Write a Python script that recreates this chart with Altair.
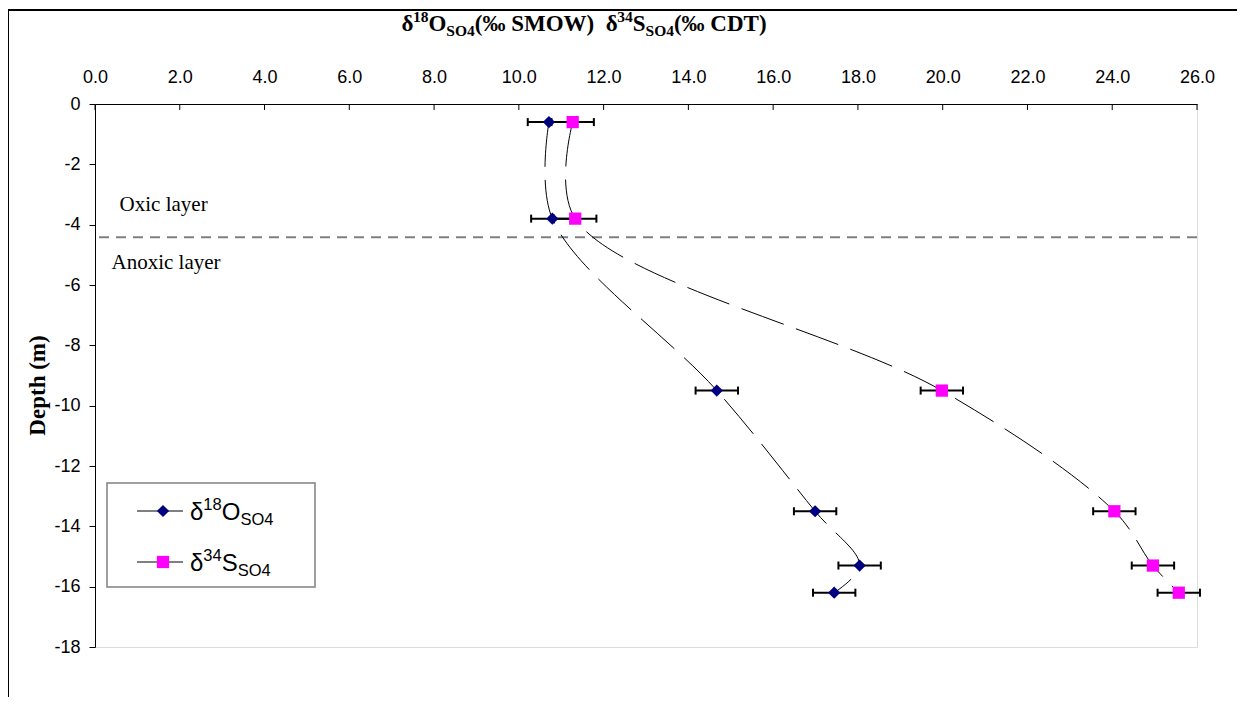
import altair as alt
import pandas as pd

# ---------------- data ----------------
depth = [-0.6, -3.8, -9.5, -13.5, -15.3, -16.2]
d18O = [10.71, 10.79, 14.67, 16.99, 18.04, 17.44]
d34S = [11.27, 11.33, 19.98, 24.05, 24.96, 25.57]
err_O = [0.5, 0.5, 0.5, 0.5, 0.5, 0.5]
err_S = [0.5, 0.5, 0.5, 0.5, 0.5, 0.5]
x_ticks = [0, 2, 4, 6, 8, 10, 12, 14, 16, 18, 20, 22, 24, 26]
y_ticks = [0, -2, -4, -6, -8, -10, -12, -14, -16, -18]
boundary_depth = [-4.42]
layer_labels = ["Oxic layer", "Anoxic layer"]
layer_label_x = [0.58, 0.39]
layer_label_y = [-3.35, -5.27]

# ---------------- layout constants ----------------
W, H = 1102, 543
PL, PT = 87, 96          # padding -> plot origin at page (95, 104)
OX, OY = 8 + PL, 8 + PT  # page coords of plot origin

SERIF = "Liberation Serif"
SANS = "Liberation Sans"

rows = []
for i in range(len(depth)):
    rows.append({"series": "O", "idx": i, "depth": depth[i], "val": d18O[i],
                 "lo": d18O[i] - err_O[i], "hi": d18O[i] + err_O[i]})
    rows.append({"series": "S", "idx": i, "depth": depth[i], "val": d34S[i],
                 "lo": d34S[i] - err_S[i], "hi": d34S[i] + err_S[i]})
df = pd.DataFrame(rows)
dfO = df[df.series == "O"]
dfS = df[df.series == "S"]

xscale = alt.Scale(domain=[0, 26], nice=False, zero=False)
yscale = alt.Scale(domain=[-18, 0], nice=False, zero=False)

xaxis = alt.Axis(orient="top", values=x_ticks, format=".1f", title=None,
                 ticks=False, labelPadding=18, labelFlush=False,
                 labelOverlap=False, grid=False, domainColor="black",
                 labelFont=SANS, labelFontSize=18, labelColor="black")
yaxis = alt.Axis(orient="left", values=y_ticks, labelExpr="'' + datum.value",
                 title="Depth (m)",
                 tickSize=6, tickColor="black", labelPadding=9, grid=False,
                 domainColor="black", labelFont=SANS, labelFontSize=18,
                 labelColor="black", titleFont=SERIF, titleFontSize=23,
                 titleFontWeight="bold", titleColor="black",
                 titleX=-46, titleY=281, titleAlign="center",
                 titleBaseline="bottom", titleAngle=-90)

X = lambda f: alt.X(f, type="quantitative", scale=xscale, axis=xaxis)
Y = lambda f: alt.Y(f, type="quantitative", scale=yscale, axis=yaxis)

dummy = pd.DataFrame({"a": [0]})


def px(page_x):
    return page_x - OX


def py(page_y):
    return page_y - OY


def txt(s, page_x, page_y, size, font, bold=False, baseline="alphabetic", align="left"):
    return alt.Chart(dummy).mark_text(
        text=s, font=font, fontSize=size, fontWeight="bold" if bold else "normal",
        color="black", align=align, baseline=baseline
    ).encode(x=alt.value(px(page_x)), y=alt.value(py(page_y)))


# ---------------- plot layers ----------------
base_axes = alt.Chart(dfO).mark_point(opacity=0).encode(x=X("val"), y=Y("depth"))

frame = alt.Chart(dummy).mark_rect(filled=False, stroke="black", strokeWidth=2).encode(
    x=alt.value(px(8)), x2=alt.value(px(1260)), y=alt.value(py(10)), y2=alt.value(py(730)))

boundary = alt.Chart(pd.DataFrame({"d": boundary_depth})).mark_rule(
    color="#808080", strokeWidth=2, strokeDash=[10, 7]).encode(y=Y("d"))

xt = alt.Chart(pd.DataFrame({"t": x_ticks})).mark_rule(color="black", strokeWidth=1).encode(
    x=X("t"), y=alt.value(0), y2=alt.value(6))

curves = alt.Chart(df).mark_line(interpolate="catmull-rom", color="black",
                                 strokeWidth=1, strokeDash=[45, 13]).encode(
    x=X("val"), y=Y("depth"), detail="series:N", order="idx:Q")

ebar = alt.Chart(df).mark_rule(color="black", strokeWidth=2).encode(
    x=X("lo"), x2="hi:Q", y=Y("depth"))
ecap_lo = alt.Chart(df).mark_tick(orient="vertical", color="black", size=8, thickness=2, opacity=1).encode(
    x=X("lo"), y=Y("depth"))
ecap_hi = alt.Chart(df).mark_tick(orient="vertical", color="black", size=8, thickness=2, opacity=1).encode(
    x=X("hi"), y=Y("depth"))

ptsO = alt.Chart(dfO).mark_point(shape="diamond", filled=True, size=150, color="#000080",
                                 opacity=1).encode(x=X("val"), y=Y("depth"))
ptsS = alt.Chart(dfS).mark_square(size=150, color="#FF00FF", opacity=1).encode(
    x=X("val"), y=Y("depth"))

lab_df = pd.DataFrame({"t": layer_labels, "x": layer_label_x, "y": layer_label_y})
labels = alt.Chart(lab_df).mark_text(font=SERIF, fontSize=21, align="left",
                                     baseline="middle", color="black").encode(
    x=X("x"), y=Y("y"), text="t:N")

# ---------------- legend (drawn by hand for sub/superscripts) ----------------
leg_box = alt.Chart(dummy).mark_rect(fill="white", stroke="#808080", strokeWidth=1.5).encode(
    x=alt.value(px(107)), x2=alt.value(px(315)), y=alt.value(py(483)), y2=alt.value(py(587)))
leg_layers = [leg_box]
for row_y, shape, color, sup, main in [(511, "diamond", "#000080", "18", "O"),
                                         (562, "square", "#FF00FF", "34", "S")]:
    leg_layers.append(alt.Chart(dummy).mark_rule(color="black", strokeWidth=1).encode(
        x=alt.value(px(137)), x2=alt.value(px(183)), y=alt.value(py(row_y))))
    leg_layers.append(alt.Chart(dummy).mark_point(shape=shape, filled=True, size=150,
                                                  color=color, opacity=1).encode(
        x=alt.value(px(163)), y=alt.value(py(row_y))))
    x0 = 190
    leg_layers.append(txt("δ", x0, row_y + 9, 24, SANS))
    x0 += 13.3
    leg_layers.append(txt(sup, x0, row_y - 1, 16.5, SANS))
    x0 += 18.4
    leg_layers.append(txt(main, x0, row_y + 9, 24, SANS))
    x0 += (18.7 if main == "O" else 16.0)
    leg_layers.append(txt("SO4", x0, row_y + 14, 16.5, SANS))

# ---------------- title (segments for sub/superscripts) ----------------
wt = {"δ": .5, "1": .5, "8": .5, "3": .5, "4": .5, "O": .778, "S": .556, "(": .333,
      "‰": 1.0, " ": .25, "M": .944, "W": 1.0, ")": .333, "C": .722, "D": .722, "T": .667}
TM, TS = 23, 15.5
segs = [("δ", "m"), ("18", "u"), ("O", "m"), ("SO4", "d"), ("(‰ SMOW)", "m"), ("  ", "m"),
        ("δ", "m"), ("34", "u"), ("S", "m"), ("SO4", "d"), ("(‰ CDT)", "m")]
widths = [sum(wt[c] for c in s) * (TM if k == "m" else TS) for s, k in segs]
tx = 584 - sum(widths) / 2
title_layers = []
for (s, k), w in zip(segs, widths):
    if s.strip():
        yb = {"m": 31, "u": 22, "d": 36}[k]
        title_layers.append(txt(s, tx, yb, TM if k == "m" else TS, SERIF, bold=True))
    tx += w

chart = alt.layer(
    frame, base_axes, boundary, xt, curves, ebar, ecap_lo, ecap_hi, ptsO, ptsS, labels,
    *leg_layers, *title_layers
).properties(
    width=W, height=H,
    autosize=alt.AutoSizeParams(type="none"),
    padding={"left": PL, "top": PT, "right": 40, "bottom": 50},
).configure_view(
    stroke="#999999", strokeWidth=1.5
).configure(background="white")

chart.save("out.html", embed_options={"renderer": "svg", "actions": False})
